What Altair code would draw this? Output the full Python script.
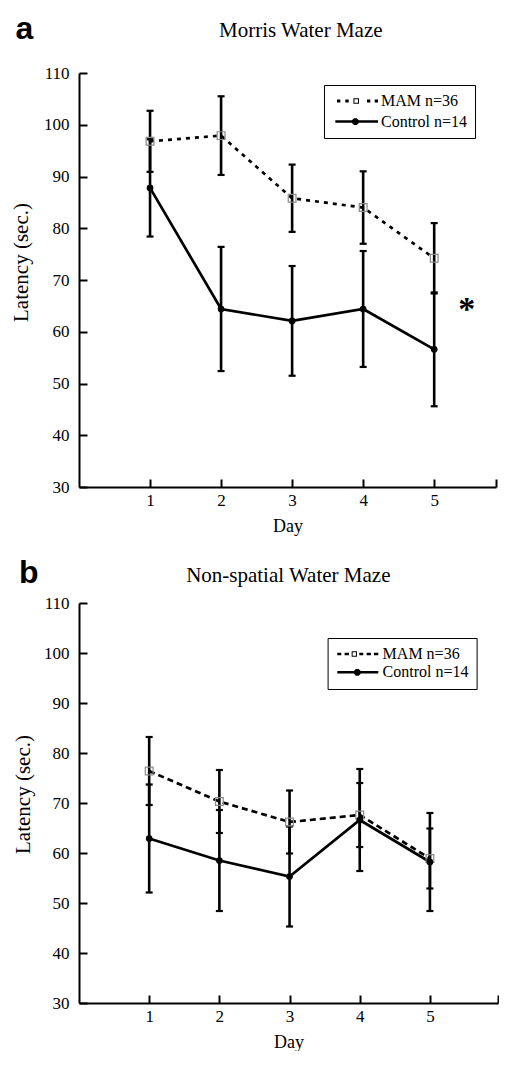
import altair as alt
import pandas as pd

# ---------------- data ----------------
days = [1, 2, 3, 4, 5]
groups = ["MAM n=36", "Control n=14"]

# a: Morris Water Maze (mean latency, error)
mam_a = [96.8, 97.9, 85.8, 84.0, 74.2]
mam_a_err = [5.9, 7.6, 6.5, 7.0, 6.8]
ctl_a = [87.8, 64.4, 62.1, 64.4, 56.6]
ctl_a_err = [9.4, 12.0, 10.6, 11.2, 11.0]

# b: Non-spatial Water Maze
mam_b = [76.4, 70.3, 66.2, 67.6, 58.9]
mam_b_err = [6.8, 6.3, 6.3, 6.4, 6.0]
ctl_b = [62.9, 58.5, 55.3, 66.6, 58.2]
ctl_b_err = [10.8, 10.1, 10.0, 10.2, 9.8]

y_ticks = [30, 40, 50, 60, 70, 80, 90, 100, 110]
x_labels = [1, 2, 3, 4, 5]

titles = ["Morris Water Maze", "Non-spatial Water Maze"]
letters = ["a", "b"]
star_day = [5.46]
star_val = [65.3]
star_text = ["*"]

SERIF = "Liberation Serif"
SANS = "Liberation Sans"


def frame(mam, mam_err, ctl, ctl_err):
    rows = []
    for d, m, e in zip(days, mam, mam_err):
        rows.append({"day": d, "group": groups[0], "mean": m, "lo": m - e, "hi": m + e})
    for d, m, e in zip(days, ctl, ctl_err):
        rows.append({"day": d, "group": groups[1], "mean": m, "lo": m - e, "hi": m + e})
    return pd.DataFrame(rows)


# ---------- legend glyph paths (unit coords, 1 unit = 4 px) ----------
SH = -0.5  # horizontal shift of legend glyphs (units)


def rect(x0, x1, h):
    x0, x1 = x0 + SH, x1 + SH
    return f"M{x0:.2f} {-h:.2f}L{x1:.2f} {-h:.2f}L{x1:.2f} {h:.2f}L{x0:.2f} {h:.2f}Z"


def ring(cx, half, t):
    cx = cx + SH
    i = half - t
    outer = (f"M{cx-half:.2f} {-half:.2f}L{cx+half:.2f} {-half:.2f}"
             f"L{cx+half:.2f} {half:.2f}L{cx-half:.2f} {half:.2f}Z")
    inner = (f"M{cx-i:.2f} {-i:.2f}L{cx-i:.2f} {i:.2f}"
             f"L{cx+i:.2f} {i:.2f}L{cx+i:.2f} {-i:.2f}Z")
    return outer + inner


def disc(cx, r):
    cx = cx + SH
    k = r * 0.414
    pts = [(cx - r, -k), (cx - k, -r), (cx + k, -r), (cx + r, -k),
           (cx + r, k), (cx + k, r), (cx - k, r), (cx - r, k)]
    return "M" + "L".join(f"{x:.2f} {y:.2f}" for x, y in pts) + "Z"


def ctl_path(x0, x1, cx):
    return rect(x0, x1, 0.31) + disc(cx, 0.85)


def mam_path(segs, cx, half, h):
    return "".join(rect(a, b, h) for a, b in segs) + ring(cx, half, 0.25)


leg_a = [
    mam_path([(-0.25, 0.58), (1.83, 2.67), (7.25, 8.08), (9.17, 10.0)], 4.55, 0.7, 0.36),
    ctl_path(-0.67, 10.0, 4.33),
]
leg_b = [
    mam_path([(-1.08, -0.08), (0.75, 1.83), (4.42, 5.42), (6.25, 7.33), (8.08, 9.17)], 3.17, 0.66, 0.3),
    ctl_path(-1.08, 9.17, 3.92),
]


def panel(df, W, H, xmax, title, letter, dash, leg_paths, leg_xy, row_pad, lab_off,
          letter_xy, title_xy, ytitle_xy, star=False):
    base = alt.Chart(df)
    xs = alt.Scale(domain=[0, xmax], nice=False, zero=False)
    ys = alt.Scale(domain=[30, 110], nice=False, zero=False)

    x_lab_axis = alt.Axis(values=x_labels, ticks=False, tickSize=0, labelPadding=5,
                          domain=True, title="Day", titleX=W / 2, titleY=44,
                          titleBaseline="alphabetic", titleFontSize=18, labelFlush=False)
    y_lab_axis = alt.Axis(values=y_ticks, ticks=False, tickSize=0, labelPadding=10,
                          domain=True, title="Latency (sec.)", titleX=ytitle_xy[0],
                          titleY=ytitle_xy[1], titleFontSize=21, labelFlush=False)
    x_tick_axis = alt.Axis(orient="top", offset=-H, values=x_labels + [xmax], labels=False,
                           domain=False, ticks=True, tickSize=8, title=None)
    y_tick_axis = alt.Axis(orient="right", offset=-W, values=y_ticks, labels=False,
                           domain=False, ticks=True, tickSize=8, title=None)

    mam = base.transform_filter(alt.datum.group == groups[0])
    ctl = base.transform_filter(alt.datum.group == groups[1])

    bars = base.mark_rule(color="black", strokeWidth=2.6).encode(
        x=alt.X("day:Q", scale=xs, axis=x_lab_axis),
        y=alt.Y("lo:Q", scale=ys, axis=y_lab_axis),
        y2="hi:Q",
    )
    caps = base.transform_fold(["lo", "hi"], as_=["k", "v"]).mark_point(
        shape="M-1,0H1", size=49, filled=False, color="black", strokeWidth=2.2, opacity=1
    ).encode(
        x=alt.X("day:Q", scale=xs, axis=x_tick_axis),
        y=alt.Y("v:Q", scale=ys, axis=y_tick_axis),
    )
    xy = dict(x=alt.X("day:Q", scale=xs, axis=None), y=alt.Y("mean:Q", scale=ys, axis=None))
    mam_line = mam.mark_line(color="black", strokeWidth=2.7, strokeDash=dash).encode(**xy)
    ctl_line = ctl.mark_line(color="black", strokeWidth=2.7).encode(**xy)
    mam_pts = mam.mark_point(shape="square", size=60, filled=False, color="#8a8a8a",
                             strokeWidth=1.2, opacity=1).encode(**xy)
    ctl_pts = ctl.mark_point(shape="circle", size=45, filled=True, color="black",
                             opacity=1).encode(**xy)
    legend = base.transform_filter(alt.datum.day > 100).mark_point(
        filled=True, color="black", size=64, opacity=1
    ).encode(
        x=alt.X("day:Q", scale=xs, axis=None),
        y=alt.Y("mean:Q", scale=ys, axis=None),
        shape=alt.Shape(
            "group:N",
            scale=alt.Scale(domain=groups, range=leg_paths),
            legend=alt.Legend(
                title=None, orient="none", legendX=leg_xy[0], legendY=leg_xy[1],
                padding=8, rowPadding=row_pad, labelOffset=lab_off,
                labelFont=SERIF, labelFontSize=16, labelColor="black", labelLimit=400,
                strokeColor="black", symbolFillColor="black", symbolStrokeWidth=0,
                symbolOpacity=1, symbolSize=64,
            ),
        )
    )
    one = alt.Chart(pd.DataFrame({"t": [letter], "title": [title]}))
    letter_mark = one.mark_text(font=SANS, fontWeight="bold", fontSize=32, align="center",
                                baseline="alphabetic", color="black").encode(
        x=alt.value(letter_xy[0]), y=alt.value(letter_xy[1]), text="t:N")
    title_mark = one.mark_text(font=SERIF, fontSize=21, align="center",
                               baseline="alphabetic", color="black").encode(
        x=alt.value(title_xy[0]), y=alt.value(title_xy[1]), text="title:N")

    layers = [bars, caps, mam_line, ctl_line, mam_pts, ctl_pts, legend, letter_mark, title_mark]
    if star:
        sdf = pd.DataFrame({"day": star_day, "v": star_val, "t": star_text})
        star_mark = alt.Chart(sdf).mark_text(font=SERIF, fontWeight="bold", fontSize=34,
                                             align="center", baseline="alphabetic",
                                             dy=16, color="black").encode(
            x=alt.X("day:Q", scale=xs, axis=None),
            y=alt.Y("v:Q", scale=ys, axis=None),
            text="t:N",
        )
        layers.append(star_mark)

    return alt.layer(*layers).resolve_axis(x="independent", y="independent").properties(
        width=W, height=H)


panel_a = panel(frame(mam_a, mam_a_err, ctl_a, ctl_a_err), 417, 414, 5.87, titles[0], letters[0],
                [4, 5], leg_a, (245, 12), 4.6, 33, (-54.5, -34.5), (221.8, -36.5),
                (-48, 189), star=True)
panel_b = panel(frame(mam_b, mam_b_err, ctl_b, ctl_b_err), 419, 400, 5.97, titles[1], letters[1],
                [6, 4], leg_b, (248.6, 35), 2.3, 31, (-50.2, -20), (209.3, -21),
                (-45.7, 191))

chart = alt.vconcat(panel_a, panel_b, spacing=22).resolve_scale(
    shape="independent"
).resolve_legend(shape="independent").properties(
    padding={"left": 2, "top": 4, "right": 0, "bottom": 0}
).configure_view(stroke=None).configure_axis(
    grid=False, labelFont=SERIF, labelFontSize=17, labelColor="black",
    titleFont=SERIF, titleFontWeight="normal", titleColor="black",
    domainColor="black", domainWidth=2, tickColor="black", tickWidth=2,
)

chart.save("out.html", embed_options={"renderer": "svg", "actions": False})
